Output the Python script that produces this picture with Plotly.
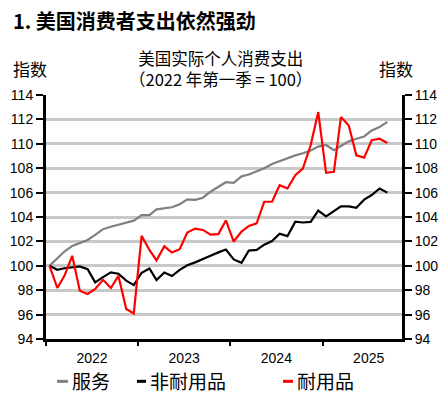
import plotly.graph_objects as go

# ---- data (monthly, Jan 2022 .. Sep 2025; index, 2022 Q1 = 100) ----
years = [2022, 2023, 2024, 2025]
months = [f"{y}-{m:02d}-15" for y in years for m in range(1, 13)][:45]

services = [100, 100.63, 101.17, 101.63, 101.9, 102.12, 102.53, 103.0, 103.2, 103.35, 103.54, 103.7,
            104.16, 104.16, 104.63, 104.7, 104.8, 105.05, 105.44, 105.4, 105.58, 106.07, 106.5, 106.85,
            106.8, 107.33, 107.48, 107.72, 108.0, 108.35, 108.57, 108.85, 109.05, 109.22, 109.45, 109.77,
            109.9, 109.47, 109.82, 110.2, 110.42, 110.6, 111.1, 111.37, 111.8]
nondurables = [100, 99.67, 99.8, 99.86, 99.95, 99.73, 98.64, 99.07, 99.46, 99.35, 98.78, 98.42,
               99.43, 99.78, 98.83, 99.45, 99.16, 99.67, 100.05, 100.28, 100.53, 100.83, 101.1, 101.33,
               100.52, 100.25, 101.25, 101.3, 101.73, 102.03, 102.63, 102.43, 103.62, 103.55, 103.6, 104.53,
               104.05, 104.45, 104.87, 104.87, 104.75, 105.42, 105.8, 106.34, 106.0]
durables = [100, 98.18, 99.18, 100.82, 97.96, 97.69, 98.1, 98.85, 98.18, 99.18, 96.46, 96.1,
            102.45, 101.3, 100.45, 101.6, 101.09, 101.36, 102.73, 103.05, 102.94, 102.55, 102.6, 103.72,
            101.99, 102.8, 103.27, 103.48, 105.25, 105.25, 106.6, 106.34, 107.43, 107.97, 109.88, 112.6,
            107.62, 107.7, 112.19, 111.5, 109.06, 108.87, 110.29, 110.42, 110.07]

series_names = ["服务", "非耐用品", "耐用品"]
series_colors = ["#808080", "#000000", "#ff0000"]
y_ticks = list(range(94, 115, 2))

title_text = "1. 美国消费者支出依然强劲"
subtitle_1 = "美国实际个人消费支出"
subtitle_2 = "（2022 年第一季 = 100）"
axis_unit = "指数"

NUM_FONT = "Liberation Sans, Arial, Noto Sans CJK SC"
CJK_FONT = "Noto Sans CJK SC, Liberation Sans"

fig = go.Figure()
for name, vals, col in zip(series_names, [services, nondurables, durables], series_colors):
    fig.add_trace(go.Scatter(x=months, y=vals, mode="lines", name=name,
                             line=dict(color=col, width=2.2), showlegend=False))
# invisible trace so the right-hand axis is drawn
fig.add_trace(go.Scatter(x=months, y=services, yaxis="y2", mode="lines",
                         line=dict(color="rgba(0,0,0,0)", width=0), hoverinfo="skip", showlegend=False))

W, H = 442, 397
ml, mr, mt, mb = 46, 40, 94.5, 57.5
pw, ph = W - ml - mr, H - mt - mb

def px(x):
    return (x - ml) / pw

def py(y):
    return (H - mb - y) / ph

fig.update_layout(
    width=W, height=H,
    margin=dict(l=ml, r=mr, t=mt, b=mb, pad=0, autoexpand=False),
    paper_bgcolor="white", plot_bgcolor="white",
    font=dict(family=NUM_FONT, size=14, color="#000000"),
    xaxis=dict(type="date", range=["2022-01-01", "2025-11-12"], automargin=False,
               tick0="2022-01-01", dtick="M12", tickformat="%Y", ticklabelmode="period",
               showline=True, linecolor="black", linewidth=3,
               ticks="outside", ticklen=4, tickwidth=2, tickcolor="black",
               showgrid=False, zeroline=False, tickfont=dict(family=NUM_FONT, size=14)),
    yaxis=dict(range=[94, 114], tickvals=y_ticks, side="left", automargin=False,
               showline=True, linecolor="black", linewidth=3,
               ticks="outside", ticklen=7, tickwidth=2, tickcolor="black",
               showgrid=True, gridcolor="#c8c8c8", gridwidth=2.5, zeroline=False,
               tickfont=dict(family=NUM_FONT, size=14)),
    yaxis2=dict(range=[94, 114], tickvals=y_ticks, side="right", overlaying="y", automargin=False,
                showline=True, linecolor="black", linewidth=3,
                ticks="outside", ticklen=7, tickwidth=2, tickcolor="black",
                showgrid=False, zeroline=False, tickfont=dict(family=NUM_FONT, size=14)),
)

# base line at 100
fig.add_shape(type="line", xref="paper", yref="y", x0=0, x1=1, y0=100, y1=100,
              line=dict(color="black", width=2), layer="between")

ann = []
ann.append(dict(text=f"<b>{title_text}</b>", x=px(11), y=py(20), xanchor="left", yanchor="middle",
                font=dict(family=CJK_FONT, size=20, color="black")))
ann.append(dict(text=f"{subtitle_1}<br>{subtitle_2}", x=px(220), y=py(67.5), xanchor="center",
                yanchor="middle", align="center",
                font=dict(family=CJK_FONT, size=16.5, color="black")))
ann.append(dict(text=axis_unit, x=px(11), y=py(68), xanchor="left", yanchor="middle",
                font=dict(family=CJK_FONT, size=17, color="black")))
ann.append(dict(text=axis_unit, x=px(377), y=py(68), xanchor="left", yanchor="middle",
                font=dict(family=CJK_FONT, size=17, color="black")))

# legend (manual, short dash markers)
legend_pos = [(57, 68, 70), (137, 146, 148), (283, 293, 295)]
for (d0, d1, tx), name, col in zip(legend_pos, series_names, series_colors):
    fig.add_shape(type="line", xref="paper", yref="paper", x0=px(d0), x1=px(d1),
                  y0=py(382), y1=py(382), line=dict(color=col, width=3))
    ann.append(dict(text=name, x=px(tx), y=py(381), xanchor="left", yanchor="middle",
                    font=dict(family=CJK_FONT, size=19, color="black")))

for a in ann:
    a.update(xref="paper", yref="paper", showarrow=False)
fig.update_layout(annotations=ann)

fig.write_html(
    "out.html",
    config={"displayModeBar": False},
    post_script="document.body.style.margin='0';document.body.style.padding='0';"
                "document.documentElement.style.margin='0';document.body.style.overflow='hidden';",
)
